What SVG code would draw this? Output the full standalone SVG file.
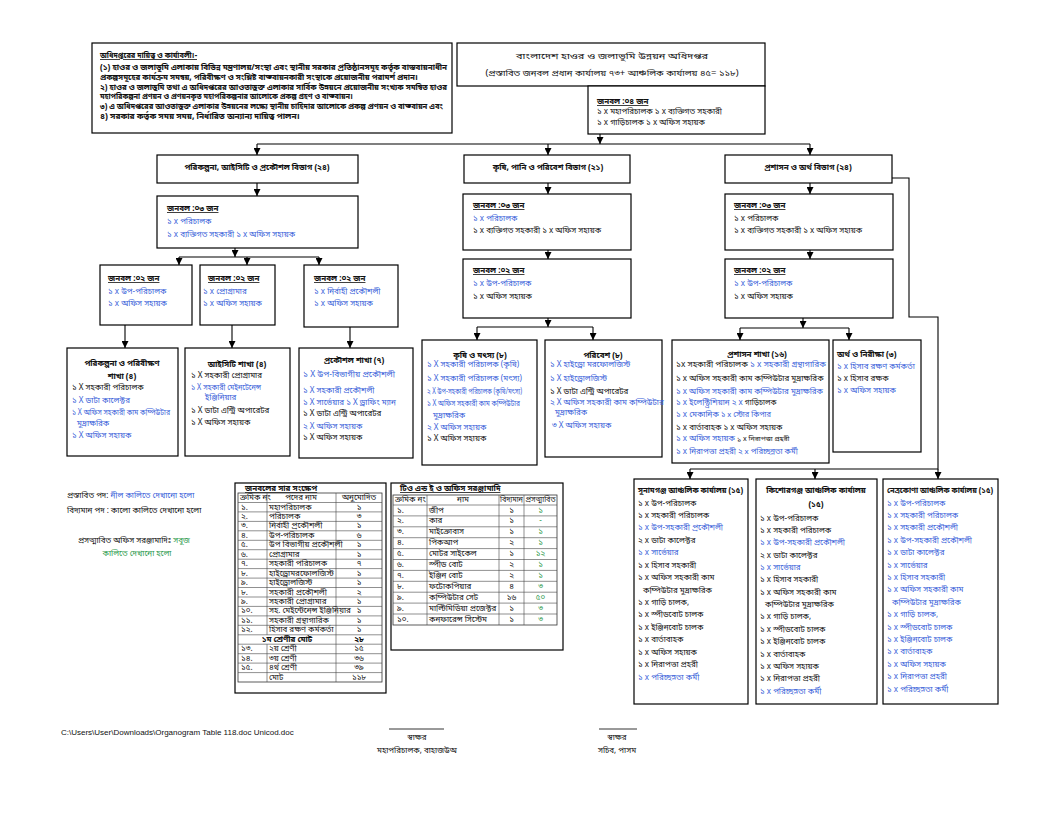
<svg xmlns="http://www.w3.org/2000/svg" width="1056" height="816" viewBox="0 0 1056 816">
<defs>
<style>
text{font-family:"Noto Sans Bengali","Noto Serif Bengali","Lohit Bengali","Noto Sans",sans-serif;fill:#111;font-size:8px}
.bx{fill:#fff;stroke:#000;stroke-width:1.2}
.c{fill:none;stroke:#000;stroke-width:1.1}
.t{fill:none;stroke:#444;stroke-width:0.6}
.b{font-weight:bold}
.u{text-decoration:underline}
.bl{fill:#3a5fd9}
.gr{fill:#2e9b4e}
.m{text-anchor:middle}
</style>
<marker id="ar" viewBox="0 0 8 8" refX="8" refY="4" markerWidth="7" markerHeight="7" orient="auto" markerUnits="userSpaceOnUse"><path d="M0,0 L8,4 L0,8 z" fill="#000"/></marker>
</defs>
<rect width="1056" height="816" fill="#fff"/>

<g id="connectors">
<path class="c" d="M600,134 V144" marker-end="url(#ar)"/>
<path class="c" d="M257,144 H810"/>
<path class="c" d="M257,144 V155" marker-end="url(#ar)"/>
<path class="c" d="M548,144 V155" marker-end="url(#ar)"/>
<path class="c" d="M810,144 V155" marker-end="url(#ar)"/>
<path class="c" d="M257,183 V196" marker-end="url(#ar)"/>
<path class="c" d="M548,183 V194" marker-end="url(#ar)"/>
<path class="c" d="M810,183 V194" marker-end="url(#ar)"/>
<path class="c" d="M235,248 V257" marker-end="url(#ar)"/>
<path class="c" d="M179,257 H319"/>
<path class="c" d="M179,257 V265" marker-end="url(#ar)"/>
<path class="c" d="M247,257 V265" marker-end="url(#ar)"/>
<path class="c" d="M319,257 V265" marker-end="url(#ar)"/>
<path class="c" d="M125,325 V348" marker-end="url(#ar)"/>
<path class="c" d="M232,325 V348" marker-end="url(#ar)"/>
<path class="c" d="M350,327 V348" marker-end="url(#ar)"/>
<path class="c" d="M548,250 V259" marker-end="url(#ar)"/>
<path class="c" d="M548,318 V327" marker-end="url(#ar)"/>
<path class="c" d="M477,327 H593"/>
<path class="c" d="M477,327 V340" marker-end="url(#ar)"/>
<path class="c" d="M593,327 V340" marker-end="url(#ar)"/>
<path class="c" d="M810,250 V259" marker-end="url(#ar)"/>
<path class="c" d="M803,318 V328" marker-end="url(#ar)"/>
<path class="c" d="M740,328 H849"/>
<path class="c" d="M740,328 V340" marker-end="url(#ar)"/>
<path class="c" d="M849,328 V340" marker-end="url(#ar)"/>
<path class="c" d="M892,178 H909 V317 H938 V469 H690"/>
<path class="c" d="M690,469 V479" marker-end="url(#ar)"/>
<path class="c" d="M815,469 V479" marker-end="url(#ar)"/>
<path class="c" d="M938,469 V479" marker-end="url(#ar)"/>
</g>

<g id="duties">
<rect class="bx" x="92" y="43" width="360" height="90"/>
<text x="100" y="58" class="b u" font-size="8.2" textLength="97" lengthAdjust="spacingAndGlyphs">অধিদপ্তরের দায়িত্ব ও কার্যাবলী।-</text>
<text x="100" y="70" class="b" font-size="8.2" textLength="347" lengthAdjust="spacingAndGlyphs">(১) হাওর ও জলাভূমি এলাকায় বিভিন্ন মন্ত্রণালয়/সংস্থা এবং স্থানীয় সরকার প্রতিষ্ঠানসমূহ কর্তৃক বাস্তবায়নাধীন</text>
<text x="100" y="79.5" class="b" font-size="8.2" textLength="318" lengthAdjust="spacingAndGlyphs">প্রকল্পসমূহের কার্যক্রম সমন্বয়, পরিবীক্ষণ ও সংশ্লিষ্ট বাস্তবায়নকারী সংস্থাকে প্রয়োজনীয় পরামর্শ প্রদান।</text>
<text x="100" y="89.5" class="b" font-size="8.2" textLength="347" lengthAdjust="spacingAndGlyphs">২) হাওর ও জলাভূমি তথা এ অধিদপ্তরের আওতাভুক্ত এলাকার সার্বিক উন্নয়নে প্রয়োজনীয় সংখ্যক সমন্বিত হাওর</text>
<text x="100" y="98.5" class="b" font-size="8.2" textLength="253" lengthAdjust="spacingAndGlyphs">মহাপরিকল্পনা প্রণয়ন ও প্রণয়নকৃত মহাপরিকল্পনার আলোকে প্রকল্প গ্রহণ ও বাস্তবায়ন।</text>
<text x="100" y="108.5" class="b" font-size="8.2" textLength="343" lengthAdjust="spacingAndGlyphs">৩) এ অধিদপ্তরের আওতাভুক্ত এলাকার উন্নয়নের লক্ষ্যে স্থানীয় চাহিদার আলোকে প্রকল্প প্রণয়ন ও বাস্তবায়ন এবং</text>
<text x="100" y="118.5" class="b" font-size="8.2" textLength="200" lengthAdjust="spacingAndGlyphs">৪)  সরকার কর্তৃক সময় সময়, নির্ধারিত অন্যান্য দায়িত্ব পালন।</text>
</g>

<g id="title">
<rect class="bx" x="457" y="43" width="308" height="43"/>
<text x="612" y="59" class="m" font-size="10.5" textLength="192" lengthAdjust="spacingAndGlyphs">বাংলাদেশ হাওর ও জলাভূমি উন্নয়ন অধিদপ্তর</text>
<text x="612" y="76" class="m" font-size="10.5" textLength="253" lengthAdjust="spacingAndGlyphs">(প্রস্তাবিত জনবল প্রধান কার্যালয় ৭৩+ আঞ্চলিক কার্যালয় ৪৫= ১১৮)</text>
</g>

<g id="dg-staff">
<rect class="bx" x="588" y="86" width="177" height="48"/>
<text x="597" y="104" class="b u" font-size="7">জনবল :০৪ জন</text>
<text x="597" y="114" font-size="8">১ x মহাপরিচালক ১ x ব্যক্তিগত সহকারী</text>
<text x="597" y="124.5" font-size="8">১ x গাড়িচালক ১ x অফিস সহায়ক</text>
</g>

<g id="div-planning">
<rect class="bx" x="157" y="155" width="201" height="28"/>
<text x="257" y="170" class="b m" font-size="9">পরিকল্পনা, আইসিটি ও প্রকৌশল বিভাগ (২৪)</text>
</g>
<g id="div-agri">
<rect class="bx" x="464" y="155" width="166" height="28"/>
<text x="548" y="170" class="b m" font-size="8.5">কৃষি, পানি ও পরিবেশ বিভাগ (২১)</text>
</g>
<g id="div-admin">
<rect class="bx" x="725" y="155" width="167" height="28"/>
<text x="808" y="170" class="b m" font-size="8.5">প্রশাসন ও অর্থ বিভাগ (২৪)</text>
</g>

<g id="planning-staff">
<rect class="bx" x="157" y="196" width="201" height="52"/>
<text x="167" y="211" class="b u" font-size="8.5">জনবল :০৩ জন</text>
<text x="167" y="224" class="bl" font-size="9.5">১ x পরিচালক</text>
<text x="167" y="237" class="bl" font-size="9.5">১ x ব্যক্তিগত সহকারী  ১ x অফিস সহায়ক</text>
</g>
<g id="planning-sub-a">
<rect class="bx" x="100" y="265" width="92" height="60"/>
<text x="108" y="281" class="b u" font-size="10">জনবল :০২ জন</text>
<text x="108" y="294" class="bl" font-size="7.5">১ x উপ-পরিচালক</text>
<text x="108" y="306" class="bl" font-size="7.5">১ x অফিস সহায়ক</text>
</g>
<g id="planning-sub-b">
<rect class="bx" x="200" y="265" width="75" height="60"/>
<text x="208" y="281" class="b u" font-size="10">জনবল :০২ জন</text>
<text x="203" y="294" class="bl" font-size="7">১ x প্রোগ্রামার</text>
<text x="203" y="306" class="bl" font-size="7.5">১ x অফিস সহায়ক</text>
</g>
<g id="planning-sub-c">
<rect class="bx" x="304" y="265" width="94" height="62"/>
<text x="314" y="281" class="b u" font-size="10">জনবল :০২ জন</text>
<text x="314" y="294" class="bl" font-size="7.5">১ x নির্বাহী প্রকৌশলী</text>
<text x="314" y="306" class="bl" font-size="7.5">১ x অফিস সহায়ক</text>
</g>

<g id="branch-planning">
<rect class="bx" x="67" y="348" width="111" height="108"/>
<text x="122" y="366" class="b m" font-size="11">পরিকল্পনা ও পরিবীক্ষণ</text>
<text x="122" y="379" class="b m" font-size="11">শাখা (৪)</text>
<text x="72" y="390" font-size="7">১ X সহকারী পরিচালক</text>
<text x="72" y="403" class="bl" font-size="7">১ X ডাটা কালেক্টর</text>
<text x="72" y="415" class="bl" font-size="7" textLength="98" lengthAdjust="spacingAndGlyphs">১ X অফিস সহকারী কাম কম্পিউটার</text>
<text x="77" y="426" class="bl" font-size="7">মুদ্রাক্ষরিক</text>
<text x="72" y="438" class="bl" font-size="7">১ X অফিস সহায়ক</text>
</g>
<g id="branch-ict">
<rect class="bx" x="185" y="348" width="105" height="108"/>
<text x="237" y="367" class="b m" font-size="11">আইসিটি শাখা (৪)</text>
<text x="191" y="378" font-size="7">১ X সহকারী প্রোগ্রামার</text>
<text x="191" y="390" class="bl" font-size="7" textLength="70" lengthAdjust="spacingAndGlyphs">১ X সহকারী মেইনটেনেন্স</text>
<text x="205" y="400" class="bl" font-size="7">ইঞ্জিনিয়ার</text>
<text x="191" y="413" font-size="7">১ X ডাটা এন্ট্রি অপারেটর</text>
<text x="191" y="425" font-size="7">১ X অফিস সহায়ক</text>
</g>
<g id="branch-engineering">
<rect class="bx" x="299" y="348" width="114" height="110"/>
<text x="354" y="363" class="b m" font-size="11">প্রকৌশল শাখা (৭)</text>
<text x="303" y="377" class="bl" font-size="8.5" textLength="92" lengthAdjust="spacingAndGlyphs">১ X উপ-বিভাগীয় প্রকৌশলী</text>
<text x="303" y="393" class="bl" font-size="7.5">১ X সহকারী প্রকৌশলী</text>
<text x="303" y="405" class="bl" font-size="7.5">১ X সার্ভেয়ার  ১ X ড্রাফিং ম্যান</text>
<text x="303" y="416" font-size="6.3">১ X ডাটা এন্ট্রি অপারেটর</text>
<text x="303" y="429" class="bl" font-size="7.5">২ X অফিস সহায়ক</text>
<text x="303" y="440" font-size="7">১ X অফিস সহায়ক</text>
</g>

<g id="agri-staff">
<rect class="bx" x="463" y="194" width="168" height="56"/>
<text x="473" y="208" class="b u" font-size="8.5">জনবল :০৩ জন</text>
<text x="473" y="221" class="bl" font-size="9.3">১ x পরিচালক</text>
<text x="473" y="233" font-size="9.3">১ x ব্যক্তিগত সহকারী  ১ x অফিস সহায়ক</text>
</g>
<g id="agri-staff2">
<rect class="bx" x="463" y="259" width="168" height="59"/>
<text x="473" y="273" class="b u" font-size="10">জনবল :০২ জন</text>
<text x="473" y="286" class="bl" font-size="11">১ x উপ-পরিচালক</text>
<text x="473" y="299" font-size="11">১ x অফিস সহায়ক</text>
</g>
<g id="branch-agri-fish">
<rect class="bx" x="422" y="340" width="115" height="125"/>
<text x="480" y="358" class="b m" font-size="10.5">কৃষি ও মৎস্য (৮)</text>
<text x="427" y="367" class="bl" font-size="6">১ X সহকারী পরিচালক (কৃষি)</text>
<text x="427" y="381" class="bl" font-size="6">১ X সহকারী পরিচালক (মৎস্য)</text>
<text x="427" y="394" class="bl" font-size="6" textLength="95" lengthAdjust="spacingAndGlyphs">২ X উপ-সহকারী পরিচালক (কৃষি/মৎস্য)</text>
<text x="427" y="406" class="bl" font-size="6" textLength="93" lengthAdjust="spacingAndGlyphs">১ X অফিস সহকারী কাম কম্পিউটার</text>
<text x="433" y="418" class="bl" font-size="6">মুদ্রাক্ষরিক</text>
<text x="427" y="430" class="bl" font-size="6">২ X অফিস সহায়ক</text>
<text x="427" y="441" font-size="7.3">১ X অফিস সহায়ক</text>
</g>
<g id="branch-environment">
<rect class="bx" x="545" y="340" width="117" height="117"/>
<text x="603" y="358" class="b m" font-size="10.5">পরিবেশ (৮)</text>
<text x="550" y="367" class="bl" font-size="5.2">১ X হাইড্রো মরফোলজিস্ট</text>
<text x="550" y="381" class="bl" font-size="5.2">১ X হাইড্রোলজিস্ট</text>
<text x="550" y="394" font-size="5.2">১ X ডাটা এন্ট্রি অপারেটর</text>
<text x="550" y="405" class="bl" font-size="5.2">২ X অফিস সহকারী কাম কম্পিউটার</text>
<text x="555" y="415" class="bl" font-size="5.2">মুদ্রাক্ষরিক</text>
<text x="552" y="428" class="bl" font-size="5.2">৩ X অফিস সহায়ক</text>
</g>

<g id="admin-staff">
<rect class="bx" x="725" y="194" width="168" height="56"/>
<text x="734" y="208" class="b u" font-size="8.5">জনবল :০৩ জন</text>
<text x="734" y="221" font-size="9.3">১ x পরিচালক</text>
<text x="734" y="233" font-size="9.3">১ x ব্যক্তিগত সহকারী  ১ x অফিস সহায়ক</text>
</g>
<g id="admin-staff2">
<rect class="bx" x="725" y="259" width="168" height="59"/>
<text x="734" y="273" class="b u" font-size="10">জনবল :০২ জন</text>
<text x="734" y="286" class="bl" font-size="11">১ x উপ-পরিচালক</text>
<text x="734" y="299" font-size="11">১ x অফিস সহায়ক</text>
</g>
<g id="branch-admin">
<rect class="bx" x="672" y="340" width="157" height="123"/>
<text x="757" y="357" class="b m" font-size="10.5">প্রশাসন শাখা (১৬)</text>
<text x="676" y="367" font-size="7.8" textLength="150" lengthAdjust="spacingAndGlyphs">১x সহকারী পরিচালক <tspan class="bl">১ x সহকারী গ্রন্থাগারিক</tspan></text>
<text x="676" y="381" font-size="6.3">১ x অফিস সহকারী কাম কম্পিউটার মুদ্রাক্ষরিক</text>
<text x="676" y="394" class="bl" font-size="6.8" textLength="147" lengthAdjust="spacingAndGlyphs">১ x অফিস সহকারী কাম কম্পিউটার মুদ্রাক্ষরিক</text>
<text x="676" y="405" class="bl" font-size="8.8">১ x ইলেক্ট্রিশিয়ান  ২ x <tspan fill="#111" font-size="7.5">গাড়িচালক</tspan></text>
<text x="676" y="417" class="bl" font-size="6.5">১ x মেকানিক  <tspan font-size="7.5">১ x স্টোর কিপার</tspan></text>
<text x="676" y="430" font-size="8.3">১ x বার্তাবাহক  ১ x অফিস সহায়ক</text>
<text x="676" y="441" class="bl" font-size="8.3">১ x অফিস সহায়ক  <tspan fill="#111" font-size="7">১ x নিরাপত্তা প্রহরী</tspan></text>
<text x="676" y="454" class="bl" font-size="6.5">১ x নিরাপত্তা প্রহরী  <tspan font-size="7.8">২ x পরিচ্ছন্নতা কর্মী</tspan></text>
</g>
<g id="branch-finance">
<rect class="bx" x="833" y="340" width="88" height="112"/>
<text x="837" y="357" class="b" font-size="10">অর্থ ও নিরীক্ষা (৩)</text>
<text x="837" y="369" class="bl" font-size="7.8">১ x হিসাব রক্ষণ কর্মকর্তা</text>
<text x="837" y="381" font-size="7.8">১ x হিসাব রক্ষক</text>
<text x="837" y="393" class="bl" font-size="7.8">১ x অফিস সহায়ক</text>
</g>

<g id="region-sunamganj">
<rect class="bx" x="634" y="479" width="114" height="225"/>
<text x="638" y="493" class="b" font-size="8.3" textLength="105" lengthAdjust="spacingAndGlyphs">সুনামগঞ্জ আঞ্চলিক কার্যালয় (১৫)</text>
<text x="638" y="505.5" font-size="9">১ x উপ-পরিচালক</text>
<text x="638" y="517.9" font-size="9">১ x সহকারী পরিচালক</text>
<text x="638" y="530.4" class="bl" font-size="9">১ x উপ-সহকারী প্রকৌশলী</text>
<text x="638" y="542.8" font-size="9">২ x ডাটা কালেক্টর</text>
<text x="638" y="555.2" class="bl" font-size="9">১ x সার্ভেয়ার</text>
<text x="638" y="567.7" font-size="9">১ x হিসাব সহকারী</text>
<text x="638" y="580.1" font-size="9">১ x অফিস সহকারী কাম</text>
<text x="643" y="592.5" font-size="9">কম্পিউটার মুদ্রাক্ষরিক</text>
<text x="638" y="604.9" font-size="9">১ x গাড়ি চালক,</text>
<text x="638" y="617.4" font-size="9">১ x  স্পীডবোট চালক</text>
<text x="638" y="629.8" font-size="9">১ x ইঞ্জিনবোট চালক</text>
<text x="638" y="642.2" font-size="9">১ x বার্তাবাহক</text>
<text x="638" y="654.7" font-size="9">১ x অফিস সহায়ক</text>
<text x="638" y="667.1" font-size="9">১ x  নিরাপত্তা প্রহরী</text>
<text x="638" y="679.5" class="bl" font-size="9">১ x পরিচ্ছন্নতা কর্মী</text>
</g>
<g id="region-kishoreganj">
<rect class="bx" x="756" y="479" width="121" height="225"/>
<text x="816" y="493" class="b m" font-size="8.3">কিশোরগঞ্জ আঞ্চলিক কার্যালয়</text>
<text x="816" y="507" class="b m" font-size="8.3">(১৫)</text>
<text x="760" y="520.5" font-size="9">১ x উপ-পরিচালক</text>
<text x="760" y="532.9" font-size="9">১ x সহকারী পরিচালক</text>
<text x="760" y="545.2" class="bl" font-size="9">১ x উপ-সহকারী প্রকৌশলী</text>
<text x="760" y="557.6" font-size="9">২ x ডাটা কালেক্টর</text>
<text x="760" y="569.9" class="bl" font-size="9">১ x সার্ভেয়ার</text>
<text x="760" y="582.3" font-size="9">১ x হিসাব সহকারী</text>
<text x="760" y="594.7" font-size="9">১ x অফিস সহকারী কাম</text>
<text x="765" y="607" font-size="9">কম্পিউটার মুদ্রাক্ষরিক</text>
<text x="760" y="619.4" font-size="9">১ x গাড়ি চালক,</text>
<text x="760" y="631.7" font-size="9">১ x  স্পীডবোট চালক</text>
<text x="760" y="644.1" font-size="9">১ x ইঞ্জিনবোট চালক</text>
<text x="760" y="656.5" font-size="9">১ x বার্তাবাহক</text>
<text x="760" y="668.8" font-size="9">১ x অফিস সহায়ক</text>
<text x="760" y="681.2" font-size="9">১ x  নিরাপত্তা প্রহরী</text>
<text x="760" y="693.5" class="bl" font-size="9">১ x পরিচ্ছন্নতা কর্মী</text>
</g>
<g id="region-netrokona">
<rect class="bx" x="883" y="479" width="115" height="225"/>
<text x="887" y="493" class="b" font-size="8.3" textLength="106" lengthAdjust="spacingAndGlyphs">নেত্রকোণা আঞ্চলিক কার্যালয় (১৫)</text>
<text x="887" y="505.5" class="bl" font-size="9">১ x উপ-পরিচালক</text>
<text x="887" y="517.9" class="bl" font-size="9">১ x সহকারী পরিচালক</text>
<text x="887" y="530.3" class="bl" font-size="9">১ x সহকারী প্রকৌশলী</text>
<text x="887" y="542.7" class="bl" font-size="9">১ x উপ-সহকারী প্রকৌশলী</text>
<text x="887" y="555.1" class="bl" font-size="9">১ x ডাটা কালেক্টর</text>
<text x="887" y="567.5" class="bl" font-size="9">১ x সার্ভেয়ার</text>
<text x="887" y="579.9" class="bl" font-size="9">১ x হিসাব সহকারী</text>
<text x="887" y="592.3" class="bl" font-size="9">১ x অফিস সহকারী কাম</text>
<text x="892" y="604.7" class="bl" font-size="9">কম্পিউটার মুদ্রাক্ষরিক</text>
<text x="887" y="617.1" class="bl" font-size="9">১ x গাড়ি চালক,</text>
<text x="887" y="629.5" class="bl" font-size="9">১ x  স্পীডবোট চালক</text>
<text x="887" y="641.9" class="bl" font-size="9">১ x ইঞ্জিনবোট চালক</text>
<text x="887" y="654.3" class="bl" font-size="9">১ x বার্তাবাহক</text>
<text x="887" y="666.7" class="bl" font-size="9">১ x অফিস সহায়ক</text>
<text x="887" y="679.1" class="bl" font-size="9">১ x  নিরাপত্তা প্রহরী</text>
<text x="887" y="691.5" class="bl" font-size="9">১ x পরিচ্ছন্নতা কর্মী</text>
</g>

<g id="legend">
<text x="67" y="498" font-size="8.5">প্রস্তাবিত পদ: <tspan class="bl">নীল কালিতে দেখানো হলো</tspan></text>
<text x="67" y="513" font-size="8.5">বিদ্যমান পদ : কালো কালিতে দেখানো হলো</text>
<text x="78" y="543" font-size="8.5">প্রসত্মাবিত অফিস সরঞ্জামাদিঃ <tspan class="gr">সবুজ</tspan></text>
<text x="137" y="556" class="gr m" font-size="8.5">কালিতে দেখানো হলো</text>
</g>

<g id="table-manpower" font-size="5.5">
<rect class="bx" x="235" y="483" width="151" height="210"/>
<text x="245" y="491" class="b u" font-size="6">জনবলের সার সংক্ষেপ</text>
<rect x="238" y="493" width="144" height="189" fill="none" stroke="#333" stroke-width="0.8"/>
<path class="t" d="M238,502.5H382M238,511.9H382M238,521.4H382M238,530.8H382M238,540.3H382M238,549.7H382M238,559.2H382M238,568.6H382M238,578.1H382M238,587.5H382M238,597H382M238,606.4H382M238,615.9H382M238,625.3H382M238,634.8H382M238,644.2H382M238,653.7H382M238,663.1H382M238,672.6H382M267,493V634.8M267,644.2V682M336,493V682"/>
<text x="240" y="500" font-size="5.5">ক্রমিক নং</text><text x="301" y="500" class="m" font-size="5.5">পদের নাম</text><text x="359" y="500" class="m" font-size="5.5">অনুমোদিত</text>
<text x="241" y="509.5" font-size="5.5">১.</text><text x="269" y="509.5" font-size="5.5">মহাপরিচালক</text><text x="359" y="509.5" class="m" font-size="5.5">১</text>
<text x="241" y="519" font-size="5.5">২.</text><text x="269" y="519" font-size="5.5">পরিচালক</text><text x="359" y="519" class="m" font-size="5.5">৩</text>
<text x="241" y="528.4" font-size="5.5">৩.</text><text x="269" y="528.4" font-size="5.5">নির্বাহী প্রকৌশলী</text><text x="359" y="528.4" class="m" font-size="5.5">১</text>
<text x="241" y="537.8" font-size="5.5">৪.</text><text x="269" y="537.8" font-size="5.5">উপ-পরিচালক</text><text x="359" y="537.8" class="m" font-size="5.5">৬</text>
<text x="241" y="547.3" font-size="5.5">৫.</text><text x="269" y="547.3" font-size="5.5">উপ বিভাগীয় প্রকৌশলী</text><text x="359" y="547.3" class="m" font-size="5.5">১</text>
<text x="241" y="556.7" font-size="5.5">৬.</text><text x="269" y="556.7" font-size="5.5">প্রোগ্রামার</text><text x="359" y="556.7" class="m" font-size="5.5">১</text>
<text x="241" y="566.2" font-size="5.5">৭.</text><text x="269" y="566.2" font-size="5.5">সহকারী পরিচালক</text><text x="359" y="566.2" class="m" font-size="5.5">৭</text>
<text x="241" y="575.6" font-size="5.5">৮.</text><text x="269" y="575.6" font-size="5.5">হাইড্রোমরফোলজিস্ট</text><text x="359" y="575.6" class="m" font-size="5.5">১</text>
<text x="241" y="585" font-size="5.5">৯.</text><text x="269" y="585" font-size="5.5">হাইড্রোলজিস্ট</text><text x="359" y="585" class="m" font-size="5.5">১</text>
<text x="241" y="594.5" font-size="5.5">৮.</text><text x="269" y="594.5" font-size="5.5">সহকারী প্রকৌশলী</text><text x="359" y="594.5" class="m" font-size="5.5">২</text>
<text x="241" y="604" font-size="5.5">৯.</text><text x="269" y="604" font-size="5.5">সহকারী প্রোগ্রামার</text><text x="359" y="604" class="m" font-size="5.5">১</text>
<text x="241" y="613.4" font-size="5.5">১০.</text><text x="269" y="613.4" font-size="5.5">সহ. মেইন্টেনেন্স ইঞ্জিনিয়ার</text><text x="359" y="613.4" class="m" font-size="5.5">১</text>
<text x="241" y="622.9" font-size="5.5">১১.</text><text x="269" y="622.9" font-size="5.5">সহকারী গ্রন্থাগারিক</text><text x="359" y="622.9" class="m" font-size="5.5">১</text>
<text x="241" y="632.3" font-size="5.5">১২.</text><text x="269" y="632.3" font-size="5.5">হিসাব রক্ষণ কর্মকর্তা</text><text x="359" y="632.3" class="m" font-size="5.5">১</text>
<text x="287" y="641.8" class="b m" font-size="5.8">১ম শ্রেণীর  মোট</text><text x="359" y="641.8" class="b m" font-size="5.8">২৮</text>
<text x="241" y="651.2" font-size="5.5">১৩.</text><text x="269" y="651.2" font-size="5.5">২য় শ্রেণী</text><text x="359" y="651.2" class="m" font-size="5.5">১৫</text>
<text x="241" y="660.7" font-size="5.5">১৪.</text><text x="269" y="660.7" font-size="5.5">৩য় শ্রেণী</text><text x="359" y="660.7" class="m" font-size="5.5">৩৬</text>
<text x="241" y="670.1" font-size="5.5">১৫.</text><text x="269" y="670.1" font-size="5.5">৪র্থ শ্রেণী</text><text x="359" y="670.1" class="m" font-size="5.5">৩৯</text>
<text x="269" y="679.6" font-size="5.5">মোট</text><text x="359" y="679.6" class="m" font-size="5.5">১১৮</text>
</g>

<g id="table-equipment" font-size="5.5">
<rect class="bx" x="391" y="483" width="172" height="167"/>
<text x="400" y="491" class="b u" font-size="6.5">টিও এন্ড ই ও অফিস সরঞ্জামাদি</text>
<rect x="393" y="495" width="164" height="130" fill="none" stroke="#333" stroke-width="0.8"/>
<path class="t" d="M393,505H557M393,515.9H557M393,526.8H557M393,537.7H557M393,548.6H557M393,559.5H557M393,570.4H557M393,581.3H557M393,592.2H557M393,603.1H557M393,614H557M427,495V625M499,495V625M524,495V625"/>
<text x="395" y="502" font-size="5.2">ক্রমিক নং</text><text x="463" y="502" class="m" font-size="5.2">নাম</text><text x="511.5" y="502" class="m" font-size="5" textLength="23" lengthAdjust="spacingAndGlyphs">বিদ্যমান</text><text x="540.5" y="502" class="m" font-size="5" textLength="30" lengthAdjust="spacingAndGlyphs">প্রসত্মাবিত</text>
<text x="397" y="512.5" font-size="5.5">১.</text><text x="429" y="512.5" font-size="5.5">জীপ</text><text x="511.5" y="512.5" class="m" font-size="5.5">১</text><text x="540.5" y="512.5" class="m gr" font-size="5.5">১</text>
<text x="397" y="523.4" font-size="5.5">২.</text><text x="429" y="523.4" font-size="5.5">কার</text><text x="511.5" y="523.4" class="m" font-size="5.5">১</text><text x="540.5" y="523.4" class="m gr" font-size="5.5">-</text>
<text x="397" y="534.3" font-size="5.5">৩.</text><text x="429" y="534.3" font-size="5.5">মাইক্রোবাস</text><text x="511.5" y="534.3" class="m" font-size="5.5">১</text><text x="540.5" y="534.3" class="m gr" font-size="5.5">১</text>
<text x="397" y="545.2" font-size="5.5">৪.</text><text x="429" y="545.2" font-size="5.5">পিকআপ</text><text x="511.5" y="545.2" class="m" font-size="5.5">২</text><text x="540.5" y="545.2" class="m gr" font-size="5.5">১</text>
<text x="397" y="556.1" font-size="5.5">৫.</text><text x="429" y="556.1" font-size="5.5">মোটর সাইকেল</text><text x="511.5" y="556.1" class="m" font-size="5.5">১</text><text x="540.5" y="556.1" class="m gr" font-size="5.5">১২</text>
<text x="397" y="567" font-size="5.5">৬.</text><text x="429" y="567" font-size="5.5">স্পীড বোট</text><text x="511.5" y="567" class="m" font-size="5.5">২</text><text x="540.5" y="567" class="m gr" font-size="5.5">১</text>
<text x="397" y="577.9" font-size="5.5">৭.</text><text x="429" y="577.9" font-size="5.5">ইঞ্জিন বোট</text><text x="511.5" y="577.9" class="m" font-size="5.5">২</text><text x="540.5" y="577.9" class="m gr" font-size="5.5">১</text>
<text x="397" y="588.8" font-size="5.5">৮.</text><text x="429" y="588.8" font-size="5.5">ফটোকপিয়ার</text><text x="511.5" y="588.8" class="m" font-size="5.5">৪</text><text x="540.5" y="588.8" class="m gr" font-size="5.5">৩</text>
<text x="397" y="599.7" font-size="5.5">৯.</text><text x="429" y="599.7" font-size="5.5">কম্পিউটার সেট</text><text x="511.5" y="599.7" class="m" font-size="5.5">১৬</text><text x="540.5" y="599.7" class="m gr" font-size="5.5">৫০</text>
<text x="397" y="610.6" font-size="5.5">৯.</text><text x="429" y="610.6" font-size="5.5">মাল্টিমিডিয়া প্রজেক্টর</text><text x="511.5" y="610.6" class="m" font-size="5.5">১</text><text x="540.5" y="610.6" class="m gr" font-size="5.5">৩</text>
<text x="397" y="621.5" font-size="5.5">১০.</text><text x="429" y="621.5" font-size="5.5">কনফারেন্স সিস্টেম</text><text x="511.5" y="621.5" class="m" font-size="5.5">১</text><text x="540.5" y="621.5" class="m gr" font-size="5.5">৩</text>
</g>

<g id="footer">
<text x="61" y="735" style="font-family:'Liberation Sans',Arial,sans-serif" font-size="4.8">C:\Users\User\Downloads\Organogram Table 118.doc Unicod.doc</text>
<path d="M389,729H444M599,729H637" stroke="#000" stroke-width="0.8"/>
<text x="417" y="740" class="m" font-size="8">স্বাক্ষর</text>
<text x="417" y="753" class="m" font-size="8">মহাপরিচালক, বাহাজউঅ</text>
<text x="617" y="740" class="m" font-size="8">স্বাক্ষর</text>
<text x="617" y="753" class="m" font-size="8">সচিব, পাসম</text>
</g>
</svg>
